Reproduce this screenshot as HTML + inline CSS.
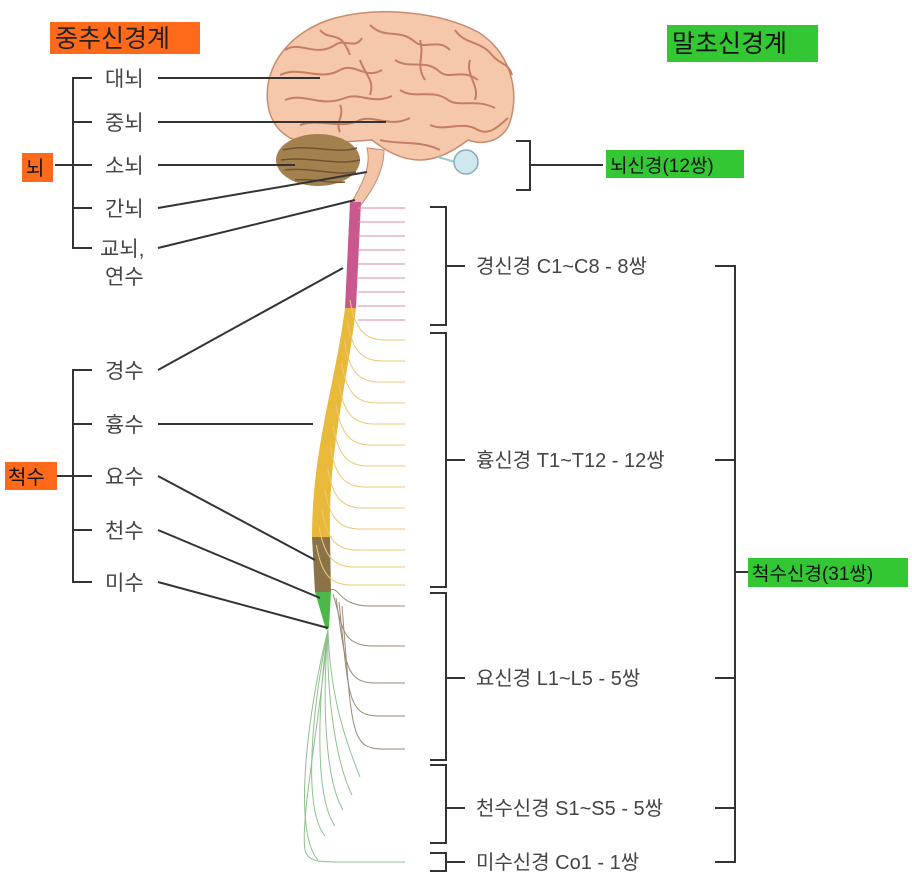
<!DOCTYPE html>
<html><head><meta charset="utf-8"><style>
html,body{margin:0;padding:0;background:#fff;}
svg{display:block;}
text{font-family:"Liberation Sans","Noto Sans CJK KR",sans-serif;}
</style></head><body>
<svg id="s" width="912" height="892" viewBox="0 0 912 892" xmlns="http://www.w3.org/2000/svg">
<rect x="50" y="22" width="150" height="32" fill="#ff6a1a"/>
<text x="55" y="47" font-size="25" fill="#222">중추신경계</text>
<rect x="667" y="25" width="151" height="37" fill="#33c833"/>
<text x="672" y="52" font-size="25" fill="#111">말초신경계</text>

<g id="brain">
<path d="M268,105 C262,65 292,30 335,18 C380,6 440,12 478,32 C510,52 520,90 510,122 C504,140 485,146 468,140 C455,150 438,160 420,160 C400,160 385,150 372,140 C340,142 310,146 290,138 C276,130 270,118 268,105Z" fill="#f6c8ab" stroke="#c98a6e" stroke-width="1.5"/>
<g fill="none" stroke="#c47e62" stroke-width="2">
<path d="M285,50 C300,40 315,58 335,45 C345,38 355,50 362,38"/>
<path d="M280,75 C300,65 320,82 340,70 C355,62 365,80 382,70"/>
<path d="M285,100 C305,92 320,108 345,98 C360,92 372,105 392,96"/>
<path d="M300,125 C320,118 340,130 360,120 C375,115 390,128 410,118"/>
<path d="M370,25 C385,40 400,28 415,42 C425,50 438,38 450,50"/>
<path d="M395,60 C410,70 425,58 440,72 C450,80 462,68 478,80"/>
<path d="M400,90 C415,100 432,88 448,100 C460,108 475,98 495,108"/>
<path d="M430,125 C445,132 462,120 478,130 C490,136 500,125 508,118"/>
<path d="M455,30 C465,45 480,40 492,55 C500,65 508,62 512,75"/>
<path d="M320,30 C330,42 340,28 350,55 M360,60 C365,75 375,80 370,95 M420,40 C425,55 415,65 425,80 M470,60 C465,75 480,85 475,100 M340,105 C345,115 335,122 340,132"/>
<path d="M380,140 C400,145 420,140 440,150"/>
</g>
<ellipse cx="318" cy="160" rx="42" ry="26" fill="#a3814f"/>
<path d="M283,150 C310,143 335,155 357,148 M281,160 C310,156 335,166 360,160 M285,170 C312,167 335,176 356,172 M295,180 C315,178 330,184 345,182" stroke="#6e5430" fill="none" stroke-width="1.5"/>
<path d="M367,148 C372,168 360,188 350,205 L361,205 C374,188 384,170 384,150Z" fill="#f3c4a8" stroke="#c98a6e"/>
<path d="M438,157 L455,162" stroke="#9cc" stroke-width="2"/>
<circle cx="466" cy="162" r="12" fill="#cfe8ee" stroke="#8ab" stroke-width="1.5"/>
</g>

<path d="M350,202 L361,202 L356,308 L345,308Z" fill="#c9588f"/>
<path d="M345,308 L356,308 C348,380 328,450 330,537 L312,537 C312,450 336,380 345,308Z" fill="#e9b93a"/>
<path d="M312,537 L330,537 L331,592 L315,592Z" fill="#8a7447"/>
<path d="M315,592 L331,592 L329,628 L326,630Z" fill="#4cb84a"/>
<g id="nerves" fill="none" stroke-width="1"></g>

<g stroke="#333" stroke-width="2" fill="none">
<path d="M92,78 H73 V248 H92 M73,122 H92 M73,165 H92 M73,208 H92 M55,165 H73"/>
<path d="M92,370 H73 V582 H92 M73,424 H92 M73,476 H92 M73,530 H92 M57,476 H73"/>
<path d="M158,78 H320 M158,122 H386 M158,165 H295 M158,208 L367,172 M158,248 L355,200"/>
<path d="M158,370 L343,268 M158,424 H313 M158,476 L315,560 M158,530 L320,598 M158,582 L328,628"/>
</g>
<g font-size="21" fill="#444">
<text x="105" y="86">대뇌</text><text x="105" y="130">중뇌</text><text x="105" y="173">소뇌</text>
<text x="105" y="216">간뇌</text><text x="100" y="256">교뇌,</text><text x="105" y="284">연수</text>
<text x="105" y="378">경수</text><text x="105" y="432">흉수</text><text x="105" y="484">요수</text>
<text x="105" y="538">천수</text><text x="105" y="590">미수</text>
</g>
<rect x="22" y="153" width="31" height="29" fill="#ff6a1a"/><text x="26" y="175" font-size="20" fill="#111">뇌</text>
<rect x="5" y="462" width="52" height="28" fill="#ff6a1a"/><text x="8" y="484" font-size="20" fill="#111">척수</text>

<g stroke="#333" stroke-width="2" fill="none">
<path d="M516,141 H530 V190 H516 M530,165 H603"/>
<path d="M430,207 H446 V325 H430 M446,266 H465"/>
<path d="M430,333 H446 V587 H430 M446,460 H465"/>
<path d="M430,593 H446 V760 H430 M446,678 H465"/>
<path d="M430,765 H446 V843 H430 M446,808 H465"/>
<path d="M430,853 H446 V871 H430 M446,862 H465"/>
<path d="M715,266 H735 V862 H715 M715,460 H735 M715,678 H735 M715,808 H735 M735,572 H750"/>
</g>
<rect x="606" y="150" width="138" height="28" fill="#33c833"/><text x="610" y="172" font-size="19" fill="#111">뇌신경(12쌍)</text>
<rect x="748" y="558" width="160" height="29" fill="#33c833"/><text x="752" y="580" font-size="19" fill="#111">척수신경(31쌍)</text>
<g font-size="20" fill="#444">
<text x="476" y="273">경신경 C1~C8 - 8쌍</text>
<text x="476" y="467">흉신경 T1~T12 - 12쌍</text>
<text x="476" y="685">요신경 L1~L5 - 5쌍</text>
<text x="476" y="815">천수신경 S1~S5 - 5쌍</text>
<text x="476" y="869">미수신경 Co1 - 1쌍</text>
</g>
</svg>
<script>
var g=document.getElementById('nerves'),h='';
function p(d,c){h+='<path d="'+d+'" stroke="'+c+'"/>';}
for(var y=208;y<=320;y+=14){p('M358,'+y+' H405','#d98aab');}
var ys=[340,361,382,403,424,445,466,487,508,529,550,567,585];
ys.forEach(function(y,i){var x0=350-i*2.8;p('M'+x0+','+(y-40)+' C'+(x0+5)+','+(y-10)+' '+(x0+15)+','+y+' '+(x0+35)+','+y+' H405','#f0c878');});
[606,646,683,716,749].forEach(function(y,i){var x0=330+i*3;p('M'+x0+','+(590+i*4)+' C'+(x0+10)+','+(y-20)+' '+(x0+8)+','+y+' '+(x0+40)+','+y+' H405','#9a8a78');});
[[360,777],[352,795],[343,810],[335,826],[325,836],[318,860]].forEach(function(a,i){p('M328,630 C'+(330-i*4)+',700 '+(a[0]-12-i*3)+','+(a[1]-30)+' '+a[0]+','+a[1],'#8fbf8f');});
p('M328,630 C320,720 300,820 305,850 C308,862 320,862 340,862 H405','#8fbf8f');
g.innerHTML=h;
</script>
</body></html>
